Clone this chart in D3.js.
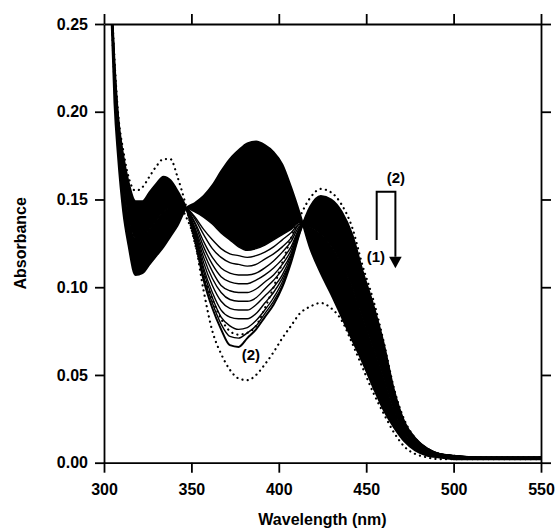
<!DOCTYPE html>
<html><head><meta charset="utf-8">
<script src="https://cdn.jsdelivr.net/npm/d3@7"></script>
<style>
html,body{margin:0;padding:0;background:#fff;}
svg{display:block;}
text{font-family:"Liberation Sans", Arial, sans-serif; font-weight:bold; fill:#000;}
</style></head><body>
<svg id="chart" width="557" height="528"></svg>
<script>
// wavelengths (nm) shared by all spectra
const wavelengths = [304,306,308,311,314,318,322,326,330,334,338,342,347,352,357,362,367,372,377,382,387,392,397,402,407,412,418,424,430,436,442,448,454,460,466,472,478,485,492,500,515,530,550];
// absorbance values in thousandths
const spectrumFirst = [262,205,175,143,124,107,108,113,118,123,129,135,145, 148,152,158,166,173,178,182,183,181,177,170,157,142, 122,108,96,83,70,57,43,30,20,12,7,4,3,2,2,2,2];
const spectrumMid   = [266,216,186,159,142,128,128,133,138,143,145,145,145, 143,140,136,131,127,123,121,122,124,127,130,133,137, 134,130,123,113,100,83,66,49,30,17,10,6,4,3,3,2,3];
const spectrumL1  = [266,217,187,160,144,130,130,135,140,145,146,146,145, 140,133,127,122,119,118,117,118,120,123,127,131,136, 135,132,125,116,103,85,68,51,31,18,10,6,4,3,3,3,3];
const spectrumL2  = [267,218,188,162,145,132,132,137,142,147,148,147,145, 139,130,122,117,114,113,112,113,116,119,123,128,136, 136,134,128,118,105,88,70,52,32,18,11,6,4,3,3,3,3];
const spectrumL3  = [267,219,189,163,147,134,134,139,144,148,149,148,145, 137,126,117,111,108,107,107,108,111,115,120,126,135, 137,136,130,121,108,90,73,54,33,19,11,7,4,3,3,3,3];
const spectrumL4  = [267,220,190,165,149,136,136,141,146,150,151,149,145, 136,123,113,106,103,102,102,104,107,111,116,123,134, 138,138,133,124,111,92,75,56,34,19,11,7,4,3,3,2,3];
const spectrumL5  = [268,221,191,166,150,138,138,143,148,152,152,150,145, 134,120,109,101,98,97,97,99,103,107,113,121,134, 139,140,135,127,114,95,77,58,35,20,12,7,5,3,3,3,3];
const spectrumL6  = [268,223,193,168,152,139,139,144,149,154,154,150,145, 133,117,105,97,93,92,92,94,99,104,110,119,133, 141,142,138,129,116,97,79,59,36,20,12,7,5,4,3,3,3];
const spectrumL7  = [269,224,194,169,153,141,141,146,151,156,155,151,145, 132,114,101,92,88,87,87,90,95,100,107,118,133, 142,144,140,132,119,100,81,61,37,21,12,7,5,4,3,3,3];
const spectrumL8  = [269,225,195,171,155,143,143,148,153,158,157,152,145, 131,111,97,87,83,82,82,85,91,97,105,116,132, 143,146,143,135,122,102,83,63,38,21,13,7,5,4,3,3,3];
const spectrumL9  = [269,226,196,172,157,145,145,150,155,159,158,153,145, 130,109,94,83,78,76,77,81,87,94,103,116,132, 144,148,145,138,125,104,86,65,39,22,13,8,5,4,3,3,3];
const spectrumL10 = [270,227,197,174,158,147,147,152,157,161,160,154,145, 128,106,91,79,72,71,74,78,85,92,101,115,131, 145,150,148,140,127,107,88,66,40,22,14,8,5,4,3,3,3];
const spectrumLast = [270,228,198,175,160,149,149,154,159,163,161,155,145, 127,104,88,76,67,66,71,76,83,90,100,114,131, 146,152,150,143,130,109,90,68,41,23,14,8,5,4,3,3,3];
const dottedUpper = [272,230,200,178,163,155,157,163,169,173,173,163,146, 125,107,93,82,75,73,74,78,88,100,114,128,140, 151,156,154,147,134,112,93,69,42,24,14,8,5,4,3,3,3];
const dottedLower = [265,215,185,158,140,128,128,133,139,144,147,147,140, 126,98,75,62,53,48,47,50,56,63,71,78,85, 89,91,88,81,68,54,40,28,17,9,5,3,2,2,2,2,2];

const xTicks = [300,350,400,450,500,550];
const yTicks = [0,0.05,0.10,0.15,0.20,0.25];

const intermediate = [spectrumL1,spectrumL2,spectrumL3,spectrumL4,spectrumL5,spectrumL6,spectrumL7,spectrumL8,spectrumL9,spectrumL10];

const svg = d3.select("#chart");
const x = d3.scaleLinear().domain([300,550]).range([104,541]);
const y = d3.scaleLinear().domain([0,0.25]).range([462.7,24]);

svg.append("defs").append("clipPath").attr("id","clip")
  .append("rect").attr("x",x.range()[0]).attr("y",y.range()[1])
  .attr("width",x.range()[1]-x.range()[0]).attr("height",y.range()[0]-y.range()[1]);

const plot = svg.append("g").attr("clip-path","url(#clip)");

const line = d3.line().x((d,i)=>x(wavelengths[i])).y(d=>y(d/1000)).curve(d3.curveMonotoneX);
// dense bundle: between first and mid spectra everywhere
const area = d3.area().x((d,i)=>x(wavelengths[i]))
  .y0((d,i)=>y(spectrumMid[i]/1000)).y1((d,i)=>y(spectrumFirst[i]/1000)).curve(d3.curveMonotoneX);
// outside the 347-412 nm window the whole family is dense: mid to last
const areaOuter = d3.area().x((d,i)=>x(wavelengths[i]))
  .y0((d,i)=>y(spectrumMid[i]/1000)).y1((d,i)=>y(spectrumLast[i]/1000))
  .defined(d=>d<=347 || d>=412).curve(d3.curveMonotoneX);

plot.append("path").datum(wavelengths).attr("d",area).attr("fill","#000");
plot.append("path").datum(wavelengths).attr("d",areaOuter).attr("fill","#000");
plot.append("path").datum(spectrumFirst).attr("d",line).attr("fill","none").attr("stroke","#000").attr("stroke-width",2);
plot.append("path").datum(spectrumMid).attr("d",line).attr("fill","none").attr("stroke","#000").attr("stroke-width",1.5);
plot.selectAll("path.mid").data(intermediate).join("path").attr("class","mid")
  .attr("d",line).attr("fill","none").attr("stroke","#000").attr("stroke-width",1.4);
plot.append("path").datum(spectrumLast).attr("d",line).attr("fill","none").attr("stroke","#000").attr("stroke-width",2);
[dottedUpper,dottedLower].forEach(s=>{
  plot.append("path").datum(s).attr("d",line).attr("fill","none").attr("stroke","#000")
    .attr("stroke-width",2.2).attr("stroke-linecap","round").attr("stroke-dasharray","0.1,5.2");
});

// axes
function styleAxis(g){
  g.selectAll(".domain").attr("stroke","#000").attr("stroke-width",1.8);
  g.selectAll(".tick line").attr("stroke","#000").attr("stroke-width",1.8);
  g.selectAll("text").attr("font-size","16px").attr("font-family","'Liberation Sans', Arial, sans-serif").attr("font-weight","bold");
}
svg.append("g").attr("transform",`translate(0,${y(0)})`)
  .call(d3.axisBottom(x).tickValues(xTicks).tickSize(10).tickSizeOuter(0).tickPadding(11).tickFormat(d3.format("d"))).call(styleAxis);
svg.append("g").attr("transform",`translate(0,${y(0.25)})`)
  .call(d3.axisTop(x).tickValues(xTicks).tickSize(10).tickSizeOuter(0).tickFormat("")).call(styleAxis);
svg.append("g").attr("transform",`translate(${x(300)},0)`)
  .call(d3.axisLeft(y).tickValues(yTicks).tickSize(9).tickSizeOuter(0).tickPadding(7).tickFormat(d3.format(".2f"))).call(styleAxis);
svg.append("g").attr("transform",`translate(${x(550)},0)`)
  .call(d3.axisRight(y).tickValues(yTicks).tickSize(10).tickSizeOuter(0).tickFormat("")).call(styleAxis);

// titles
svg.append("text").attr("x",(x.range()[0]+x.range()[1])/2).attr("y",525)
  .attr("text-anchor","middle").attr("font-size","16px").text("Wavelength (nm)");
svg.append("text").attr("transform",`translate(20,${(y.range()[0]+y.range()[1])/2}) rotate(-90)`)
  .attr("text-anchor","middle").attr("dy","0.35em").attr("font-size","16px").text("Absorbance");

// annotations (placed in data units)
const ann = svg.append("g");
ann.append("path")
  .attr("d",`M${x(456)},${y(0.1269)}V${y(0.1544)}H${x(466.7)}V${y(0.1174)}`)
  .attr("fill","none").attr("stroke","#000").attr("stroke-width",2);
ann.append("path")
  .attr("d",`M${x(463.1)},${y(0.1174)}L${x(470.3)},${y(0.1174)}L${x(466.7)},${y(0.1108)}Z`)
  .attr("fill","#000");
ann.append("text").attr("x",x(467)).attr("y",y(0.1594)).attr("text-anchor","middle").attr("font-size","15px").text("(2)");
ann.append("text").attr("x",x(455.5)).attr("y",y(0.1145)).attr("text-anchor","middle").attr("font-size","15px").text("(1)");
ann.append("text").attr("x",x(384)).attr("y",y(0.0587)).attr("text-anchor","middle").attr("font-size","15px").text("(2)");
</script></body></html>
